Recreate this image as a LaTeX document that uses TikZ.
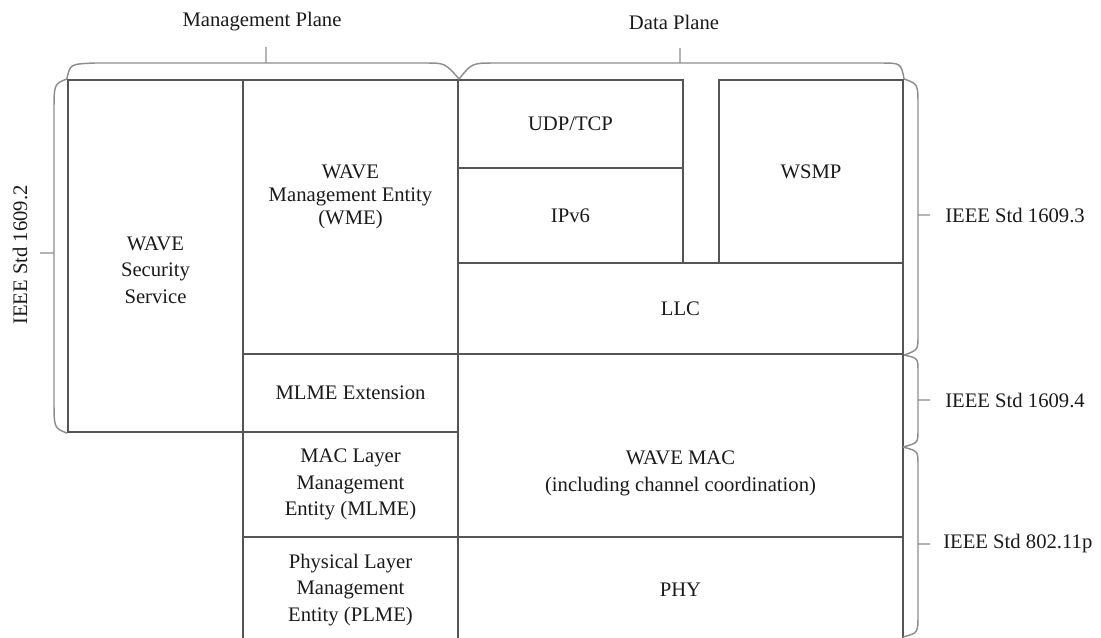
\documentclass[tikz,border=0pt]{standalone}
\usepackage{fontspec}
\setmainfont{Liberation Serif}
\usetikzlibrary{positioning}
\definecolor{wvgrid}{HTML}{555555}
\definecolor{wvbrace}{HTML}{8E8E8E}
\definecolor{wvtext}{HTML}{1A1A1A}
\newcommand\pxu{0.75pt}
\tikzset{
    layer/.style n args={2}{
        draw=wvgrid,line width=1.6pt,inner sep=0pt,align=center,
        minimum width=#1*\pxu,minimum height=#2*\pxu,text=wvtext
    },
    shifted/.style={align=center,text=wvtext,inner sep=0pt},
    bracket/.style={draw=wvbrace,line width=1.1pt},
    stdlabel/.style={anchor=west,inner sep=0pt,text=wvtext}
}

\begin{document}
\begin{tikzpicture}[x=0.75pt,y=-0.75pt,font=\fontsize{15.5}{20}\selectfont]

\clip (0,0) rectangle (1101,637);

% management plane
\node[layer={175}{352},
label={[shifted,yshift=-10.5pt]center:{WAVE\\Security\\Service}}]
(sec) at (155.5,256) {};
\node[layer={215}{274},
label={[shifted,yshift=15pt]center:{WAVE\\[-2.5pt]Management Entity\\[-2.5pt](WME)}}]
(wme) at (350.5,217) {};
\node[layer={215}{78}](mlmeext) at (350.5,393) {MLME Extension};
\node[layer={215}{105}](mlme) at (350.5,484.5)
{MAC Layer\\Management\\Entity (MLME)};
\node[layer={215}{106}](plme) at (350.5,590)
{Physical Layer\\Management\\Entity (PLME)};

% data plane
\node[layer={225}{88}](udp) at (570.5,124) {UDP/TCP};
\node[layer={225}{95}](ipv6) at (570.5,215.5) {IPv6};
\node[layer={184}{183}](wsmp) at (811,171.5) {WSMP};
\node[layer={445}{91}](llc) at (680.5,308.5) {LLC};
\node[layer={445}{183},
label={[shifted,yshift=-21pt]center:{WAVE MAC\\(including channel coordination)}}]
(mac) at (680.5,445.5) {};
\node[layer={445}{106}](phy) at (680.5,590) {PHY};

% titles
\node[text=wvtext] (mgmt) at (262,22) {Management Plane};
\node[text=wvtext] (data) at (674,22) {Data Plane};
\node[text=wvtext,rotate=90] (std2) at (20,255) {IEEE Std 1609.2};
\node[stdlabel] (std3) at (945,215) {IEEE Std 1609.3};
\node[stdlabel] (std4) at (945,400) {IEEE Std 1609.4};
\node[stdlabel] (std11p) at (943,544) {IEEE Std 802.11p};

\coordinate (split) at (903,447);
\coordinate (bottom) at (903,637);

% brackets
\draw[bracket] (sec.north west) .. controls (70,64) .. (95,63)
-- (266,63) -- ++(0,-16) ++(0,16)
-- (425,63) .. controls (445,63) .. (wme.north east);
\draw[bracket] (wme.north east) .. controls (472,63) .. (495,63)
-- (680,63) -- ++(0,-15) ++(0,15)
-- (880,63) .. controls (901,63) .. (wsmp.north east);
\draw[bracket] (sec.north west) .. controls (54,84) .. (54,112)
-- (54,253) -- ++(-14,0) ++(14,0)
-- (54,400) .. controls (54,428) .. (sec.south west);
\draw[bracket] (wsmp.north east) .. controls (918,84) .. (918,105)
-- (918,215) -- ++(12,0) ++(-12,0)
-- (918,335) .. controls (918,350) .. (llc.south east);
\draw[bracket] (llc.south east) .. controls (918,358) .. (918,372)
-- (918,400) -- ++(12,0) ++(-12,0)
-- (918,430) .. controls (918,443) .. (split);
\draw[bracket] (split) .. controls (918,451) .. (918,465)
-- (918,544) -- ++(12,0) ++(-12,0)
-- (918,615) .. controls (918,633) .. (bottom);

\end{tikzpicture}
\end{document}
